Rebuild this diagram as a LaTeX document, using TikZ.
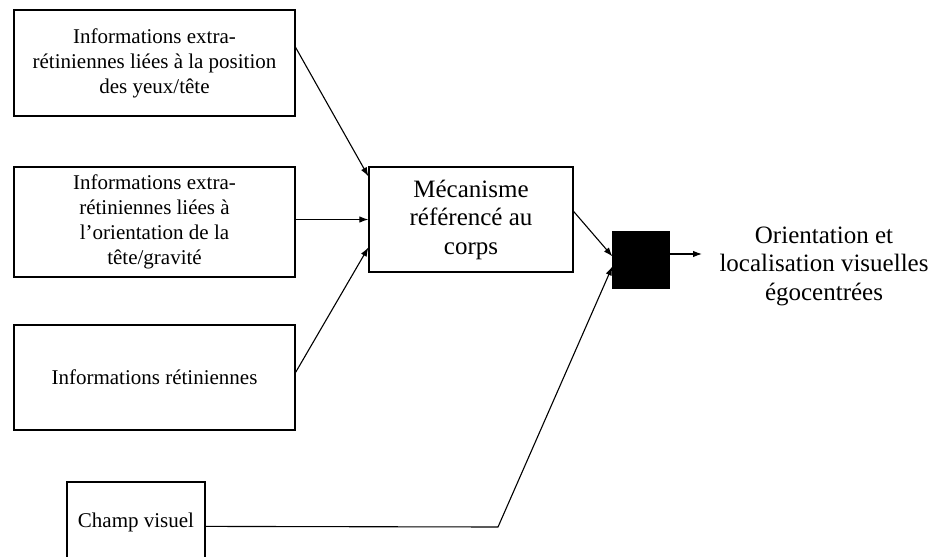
\documentclass[tikz,border=0pt]{standalone}
\usepackage{fontspec}
\setmainfont{Liberation Serif}
\usetikzlibrary{arrows.meta,calc}
\begin{document}
\begin{tikzpicture}[x=1pt,y=-1pt,
  box/.style={draw,line width=1.2pt,rectangle,inner sep=0pt,align=center,
    font=\fontsize{21}{25}\selectfont},
  bigtext/.style={align=center,inner sep=0pt,font=\fontsize{25}{28.5}\selectfont},
  conn/.style={line width=1.1pt,-{Latex[length=9pt,width=6.5pt]}},
  plain/.style={line width=1.1pt}]
\useasboundingbox (0,0) rectangle (930,557);
\clip (0,0) rectangle (930,557);
\fill[white] (0,0) rectangle (930,557);
\node[box,minimum width=281pt,minimum height=106pt] (b1) at (154.5,63)
  {Informations extra-\\rétiniennes liées à la position\\des yeux/tête};
\node[box,minimum width=281pt,minimum height=110pt] (b2) at (154.5,222)
  {Informations extra-\\rétiniennes liées à\\l’orientation de la\\tête/gravité};
\node[box,minimum width=281pt,minimum height=105pt] (b3) at (154.5,377.5)
  {Informations rétiniennes};
\node[box,minimum width=138pt,minimum height=80pt] (b4) at (136,522)
  {Champ visuel};
\node[box,bigtext,draw,line width=1.2pt,minimum width=204pt,minimum height=105pt] (c) at (471,219.5)
  {Mécanisme\\référencé au\\corps};
\node[draw,fill=black,line width=1.2pt,minimum width=56pt,minimum height=56pt,inner sep=0pt] (k) at (641,260) {};
\node[bigtext] (out) at (824,266) {Orientation et\\localisation visuelles\\égocentrées};
\coordinate (corner) at (498,527);
\coordinate (outend) at (702,254);
\draw[conn] ($(b1.north east)+(0,38)$) -- ($(c.north west)+(0,10)$);
\draw[conn] (b2.east |- c.west) -- (c.west);
\draw[conn] ($(b3.north east)+(0,48)$) -- ($(c.north west)+(0,81)$);
\draw[conn] ($(c.north east)+(0,45)$) -- ($(k.north west)+(0,25)$);
\draw[conn] ($(b4.north east)+(0,45)$) -- (corner) -- ($(k.north west)+(0,35)$);
\draw[conn] ($(k.east)+(0,-6)$) -- (outend);
\end{tikzpicture}
\end{document}
